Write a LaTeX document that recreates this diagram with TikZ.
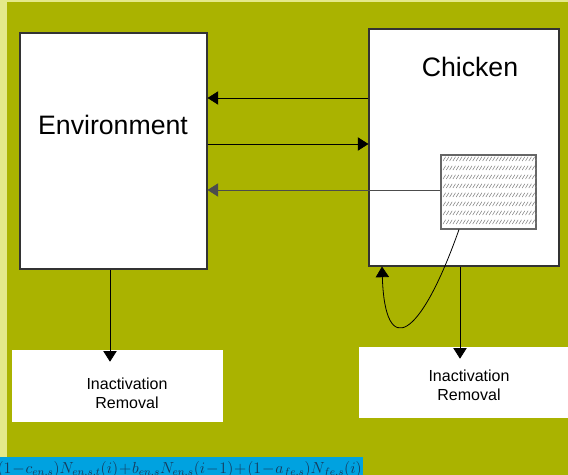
\documentclass[tikz,border=0pt]{standalone}
\usepackage{fontspec}
\setsansfont{Liberation Sans}
\usetikzlibrary{arrows.meta,positioning}

\definecolor{slideolive}{HTML}{AAB300}
\definecolor{slidepale}{HTML}{E4E98A}
\definecolor{eqnblue}{HTML}{00A2E0}
\definecolor{eqnink}{HTML}{173A5C}

\begin{document}
\begin{tikzpicture}[x=0.75pt,y=-0.75pt,
		box/.style={draw=black!80,fill=white,line width=0.8pt,inner sep=0pt},
		outbox/.style={fill=white,inner sep=0pt},
		flow/.style={-{Triangle[length=8pt,width=10pt]},line width=0.6pt},
		hatchmark/.style={gray,line width=0.4pt},
		biglabel/.style={font=\sffamily\fontsize{20}{24}\selectfont},
		smalllabel/.style={font=\sffamily\fontsize{12}{14.25}\selectfont,align=center}]
	\useasboundingbox (0,0) rectangle (568,475);
	% slide background
	\fill[slidepale] (0,0) rectangle (568,475);
	\fill[slideolive] (7,2) rectangle (568,475);

	% compartments
	\node[box,minimum width=140.25pt,minimum height=177pt] (env) at (113.5,151) {};
	\node[box,minimum width=142.5pt,minimum height=177.75pt] (chick) at (464,147.5) {};
	\node[box,draw=black!60,minimum width=71.25pt,minimum height=55.5pt] (hatch) at (488.5,192) {};
	\begin{scope}
		\clip (hatch.south west) rectangle (hatch.north east);
		\foreach \r in {0,...,7}
			\foreach \c in {0,...,28}
				\draw[hatchmark] (443+\c*3.3,161+\r*9) -- ++(2.6,-4.2);
	\end{scope}
	\node[outbox,minimum width=158.25pt,minimum height=54pt] (envout) at (117.5,386) {};
	\node[outbox,minimum width=162pt,minimum height=53.25pt] (chickout) at (467,382.5) {};

	\node[biglabel] (envtxt) at (113,125) {Environment};
	\node[biglabel] (chicktxt) at (470,67) {Chicken};
	\node[smalllabel] (envouttxt) at (127,393) {Inactivation\\Removal};
	\node[smalllabel] (chickouttxt) at (469,385) {Inactivation\\Removal};

	% exchanges between the compartments
	\draw[flow] (chick.west |- 0,98) -- (env.east |- 0,98);
	\draw[flow] (env.east |- 0,144) -- (chick.west |- 0,144);
	\draw[flow,black!70] (hatch.west |- 0,190) -- (env.east |- 0,190);
	\draw[flow] (hatch.south -| 459,0) .. controls (420,340) and (385,360) .. (chick.south -| 382,0);

	% losses
	\draw[flow] (env.south -| 110,0) -- ([yshift=-9pt]envout.north -| 110,0);
	\draw[flow] (chick.south -| 460,0) -- ([yshift=-9pt]chickout.north -| 460,0);

	% balance equation (tight spacing)
	\fill[eqnblue] (0,457) rectangle (363,480);
	\node[anchor=base east,inner sep=0pt,text=eqnink,font=\fontsize{12}{14}\selectfont] (eqn) at (362,473)
		{\medmuskip=1mu\thickmuskip=1mu
		$(1-c_{en,s})N_{en,s,t}(i)+b_{en,s}N_{en,s}(i-1)+(1-a_{fe,s})N_{fe,s}(i)$};
\end{tikzpicture}
\end{document}
